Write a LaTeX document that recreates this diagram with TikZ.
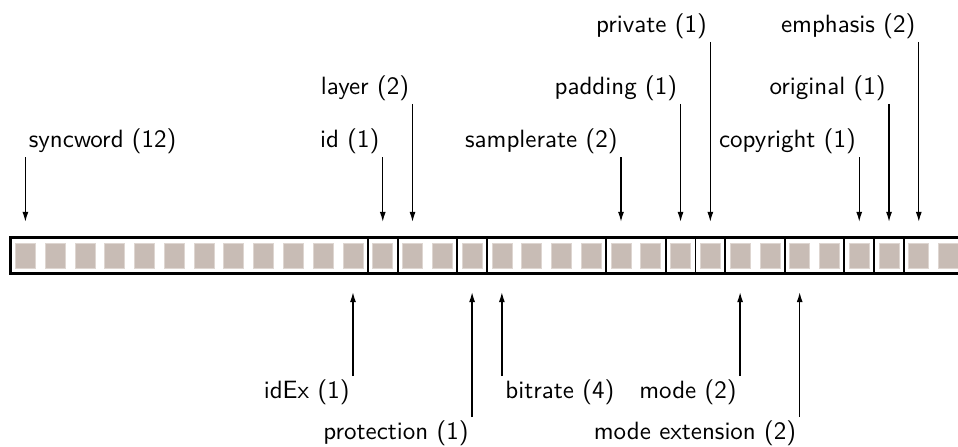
\documentclass[tikz,border=0pt]{standalone}
\usepackage{tikz}
\usetikzlibrary{arrows.meta}

\definecolor{bitgray}{RGB}{200,188,181}
\definecolor{bitedge}{RGB}{222,214,209}

\tikzset{
    bit/.style={rectangle, fill=bitgray, draw=bitedge, line width=0.3pt, inner sep=0pt,
                minimum width=8pt, minimum height=10pt},
    field/.style={line width=0.7pt},
    lbl/.style={font=\sffamily, inner sep=1.2pt},
    arr/.style={line width=0.5pt, -{Latex[length=4pt,width=2.4pt]}}
}

\begin{document}
\begin{tikzpicture}[x=0.4pt,y=-0.4pt]
                        \useasboundingbox (0,0) rectangle (958,446);

                        % Bits
                        \foreach \i in {0,...,31}
                            \node[bit] (b\i) at ({10.5+(\i+0.5)*29.78},255.5) {};

                        % Fields
                        \foreach \a/\b in {0/12,12/13,13/15,15/16,16/20,20/22,22/23,23/24,24/26,26/28,28/29,29/30,30/32}
                            \draw[field] ({10.5+\a*29.78},237.7) rectangle ({10.5+\b*29.78},273.3);
                        \draw[line width=1pt] (10.5,237.7) rectangle ({10.5+32*29.78},273.3);

                        % Labels above
                        \node[lbl, anchor=south west] (sync) at (b0 |- 0,157) {syncword (12)};
                        \node[lbl, anchor=south east] (id) at (b12 |- 0,157) {id (1)};
                        \node[lbl, anchor=south east] (layer) at (b13 |- 0,104) {layer (2)};
                        \node[lbl, anchor=south east] (samplerate) at (b20 |- 0,157) {samplerate (2)};
                        \node[lbl, anchor=south east] (padding) at (b22 |- 0,104) {padding (1)};
                        \node[lbl, anchor=south east] (private) at (b23 |- 0,42) {private (1)};
                        \node[lbl, anchor=south east] (copyright) at (b28 |- 0,157) {copyright (1)};
                        \node[lbl, anchor=south east] (original) at (b29 |- 0,104) {original (1)};
                        \node[lbl, anchor=south east] (emphasis) at (b30 |- 0,42) {emphasis (2)};

                        % Labels below
                        \node[lbl, anchor=north east] (idex) at (b11 |- 0,376) {idEx (1)};
                        \node[lbl, anchor=north east] (protection) at (b15 |- 0,417) {protection (1)};
                        \node[lbl, anchor=north west] (bitrate) at (b16 |- 0,376) {bitrate (4)};
                        \node[lbl, anchor=north east] (mode) at (b24 |- 0,376) {mode (2)};
                        \node[lbl, anchor=north east] (modeext) at (b26 |- 0,417) {mode extension (2)};

                        % Arrows
                        \draw[arr, shorten >=8.3pt] (sync.south west) -- (b0.north);
                        \draw[arr, shorten >=8.3pt] (id.south east) -- (b12.north);
                        \draw[arr, shorten >=8.3pt] (layer.south east) -- (b13.north);
                        \draw[arr, shorten >=8.3pt] (samplerate.south east) -- (b20.north);
                        \draw[arr, shorten >=8.3pt] (padding.south east) -- (b22.north);
                        \draw[arr, shorten >=8.3pt] (private.south east) -- (b23.north);
                        \draw[arr, shorten >=8.3pt] (copyright.south east) -- (b28.north);
                        \draw[arr, shorten >=8.3pt] (original.south east) -- (b29.north);
                        \draw[arr, shorten >=8.3pt] (emphasis.south east) -- (b30.north);

                        \draw[arr, shorten >=9.5pt] (idex.north east) -- (b11.south);
                        \draw[arr, shorten >=9.5pt] (protection.north east) -- (b15.south);
                        \draw[arr, shorten >=9.5pt] (bitrate.north west) -- (b16.south);
                        \draw[arr, shorten >=9.5pt] (mode.north east) -- (b24.south);
                        \draw[arr, shorten >=9.5pt] (modeext.north east) -- (b26.south);
                    \end{tikzpicture}
\end{document}
